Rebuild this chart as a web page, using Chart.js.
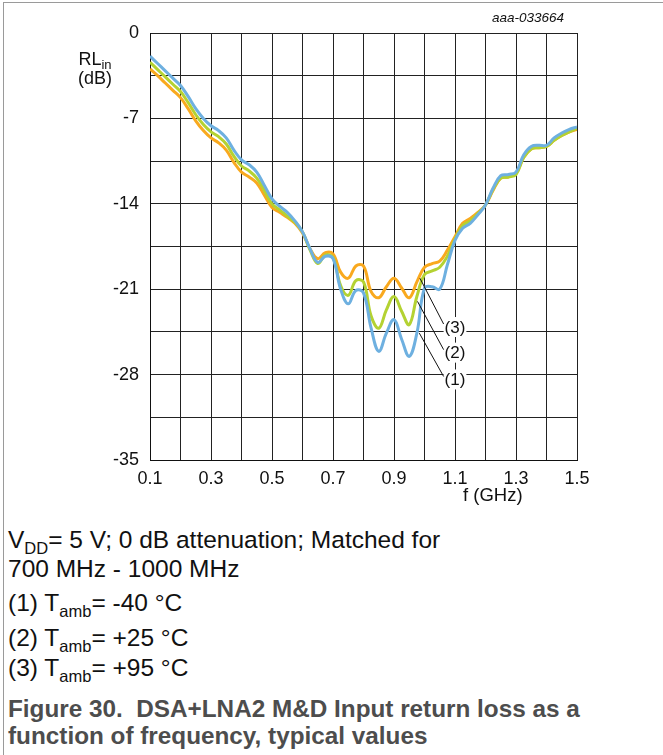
<!DOCTYPE html>
<html>
<head>
<meta charset="utf-8">
<script src="https://cdn.jsdelivr.net/npm/chart.js@4.4.1/dist/chart.umd.min.js"></script>
<style>
  html, body { margin:0; padding:0; background:#fff; }
  body { width:663px; height:755px; position:relative; overflow:hidden; font-family:"Liberation Sans", Arial, sans-serif; color:#111; }
  .frame { position:absolute; left:3px; top:2px; width:660px; height:753px; border-left:1px solid #9a9a9a; border-top:1px solid #9a9a9a; }
  .chartBox { position:absolute; left:0; top:0; width:663px; height:510px; }
  .abs { position:absolute; white-space:nowrap; line-height:1; }
  .ylab { left:60px; top:50px; width:70px; text-align:center; font-size:18px; line-height:19px; }
  .code { left:492px; top:11px; font-size:13.5px; font-style:italic; }
  .xlab { left:463px; top:486px; font-size:18.5px; }
  .note { left:8px; font-size:24.5px; }
  .note sub { font-size:16.5px; vertical-align:-6px; line-height:0; }
  .cap { left:8px; font-size:24.3px; font-weight:bold; color:#4d4d4d; }
</style>
</head>
<body>
<div class="frame"></div>
<div class="chartBox"><canvas id="rl"></canvas></div>

<div class="abs ylab">RL<sub style="font-size:13px;vertical-align:-4px;line-height:0">in</sub><br>(dB)</div>
<div class="abs code">aaa-033664</div>
<div class="abs xlab">f (GHz)</div>

<div class="abs note" style="top:528px">V<sub>DD</sub>= 5 V; 0 dB attenuation; Matched for</div>
<div class="abs note" style="top:557px">700 MHz - 1000 MHz</div>
<div class="abs note" style="top:591px">(1) T<sub>amb</sub>= -40 °C</div>
<div class="abs note" style="top:626px">(2) T<sub>amb</sub>= +25 °C</div>
<div class="abs note" style="top:656px">(3) T<sub>amb</sub>= +95 °C</div>
<div class="abs cap" style="top:697px">Figure 30.&nbsp; DSA+LNA2 M&amp;D Input return loss as a</div>
<div class="abs cap" style="top:724px">function of frequency, typical values</div>

<script>
// ====== Data ======
const freqGHz = [0.1,0.125,0.15,0.175,0.2,0.225,0.25,0.275,0.3,0.325,0.35,0.375,0.4,0.425,0.45,0.475,0.5,0.525,0.55,0.575,0.6,
  0.625,0.65,0.675,0.7,0.725,0.75,0.775,0.8,0.825,0.85,0.875,0.9,0.925,0.95,0.975,1.0,1.025,1.05,1.075,1.1,
  1.125,1.15,1.175,1.2,1.225,1.25,1.275,1.3,1.325,1.35,1.375,1.4,1.425,1.45,1.475,1.5];

// (1) Tamb = -40 °C
const rlMinus40 = [-1.9,-2.5,-3.1,-3.7,-4.3,-5.2,-6.2,-7.0,-7.6,-8.0,-8.6,-9.6,-10.4,-10.8,-11.4,-12.5,-13.6,-14.2,-14.7,-15.4,-16.3,
  -17.7,-18.8,-18.3,-18.5,-21.0,-22.2,-21.1,-21.3,-24.2,-26.1,-24.6,-23.5,-25.1,-26.5,-24.6,-20.9,-20.8,-21.0,-19.0,-17.0,
  -16.0,-15.6,-14.9,-14.1,-12.7,-11.7,-11.6,-11.4,-10.0,-9.3,-9.2,-9.2,-8.6,-8.2,-7.9,-7.7];
// (2) Tamb = +25 °C
const rlPlus25 = [-2.4,-3.0,-3.6,-4.2,-4.8,-5.7,-6.7,-7.5,-8.1,-8.5,-9.1,-10.1,-10.9,-11.3,-11.9,-12.9,-14.0,-14.5,-15.0,-15.5,-16.3,
  -17.8,-18.9,-18.2,-18.4,-20.7,-21.5,-20.3,-20.4,-23.2,-24.2,-22.7,-21.6,-22.8,-23.9,-21.6,-19.8,-19.5,-19.2,-18.3,-16.9,
  -15.8,-15.4,-14.8,-14.1,-12.8,-11.9,-11.8,-11.6,-10.2,-9.5,-9.4,-9.3,-8.8,-8.4,-8.1,-7.8];
// (3) Tamb = +95 °C
const rlPlus95 = [-2.95,-3.5,-4.1,-4.7,-5.3,-6.2,-7.2,-8.0,-8.6,-9.0,-9.6,-10.6,-11.4,-11.8,-12.3,-13.3,-14.3,-14.7,-15.1,-15.6,-16.4,
  -17.7,-18.5,-18.0,-18.1,-19.6,-20.1,-19.1,-19.1,-21.2,-21.7,-20.8,-20.1,-20.9,-21.7,-20.4,-19.2,-18.9,-18.7,-17.8,-16.7,
  -15.6,-15.2,-14.7,-14.1,-12.9,-11.9,-11.8,-11.5,-10.2,-9.5,-9.4,-9.3,-8.8,-8.4,-8.1,-7.9];

const seriesNames = ['(1)', '(2)', '(3)'];
const seriesColors = ['#6eb0e0', '#b4d232', '#f9a91e'];
// callout labels: [label x, label y, leader end x, leader end y] in axis units
const callouts = [
  ['(3)', 1.1, -24.1, 0.985, -20.1],
  ['(2)', 1.1, -26.2, 0.977, -22.0],
  ['(1)', 1.1, -28.4, 0.983, -24.6]
];

// ====== Helpers ======
const pts = ys => freqGHz.map((f,i) => ({ x:f, y:ys[i] }));
const FONT = '"Liberation Sans", Arial, sans-serif';

const calloutPlugin = {
  id:'callouts',
  afterDatasetsDraw(chart){
    const {ctx, scales:{x, y}} = chart;
    ctx.save();
    ctx.font = '17px ' + FONT;
    ctx.textAlign = 'center'; ctx.textBaseline = 'middle';
    callouts.forEach(([txt, lx, ly, ex, ey]) => {
      const px = x.getPixelForValue(lx), py = y.getPixelForValue(ly);
      const w = ctx.measureText(txt).width;
      ctx.fillStyle = '#fff';
      ctx.fillRect(px - w/2 - 1, py - 10, w + 2, 20);
      ctx.strokeStyle = '#111'; ctx.lineWidth = 1;
      ctx.beginPath();
      ctx.moveTo(px - w/2 - 1, py - 3);
      ctx.lineTo(x.getPixelForValue(ex), y.getPixelForValue(ey));
      ctx.stroke();
      ctx.fillStyle = '#111';
      ctx.fillText(txt, px, py + 1);
    });
    ctx.restore();
  }
};

// ====== Chart ======
new Chart(document.getElementById('rl'), {
  type:'line',
  data:{
    datasets:[rlMinus40, rlPlus25, rlPlus95].map((ys,i) => ({
      label: seriesNames[i], data: pts(ys),
      borderColor: seriesColors[i], borderWidth: 3,
      pointRadius: 0, tension: 0.4, fill: false
    }))
  },
  options:{
    responsive:true, maintainAspectRatio:false, animation:false,
    layout:{ padding:{ top:33, right:86, left:0, bottom:0 } },
    plugins:{ legend:{ display:false }, tooltip:{ enabled:false } },
    scales:{
      x:{
        type:'linear', min:0.1, max:1.5,
        afterFit: s => { s.height = 50; },
        grid:{ color:'#222', lineWidth:1, drawTicks:false },
        border:{ color:'#111', width:1 },
        ticks:{
          stepSize:0.1, autoSkip:false, maxRotation:0, padding:8, color:'#111',
          font:{ family:FONT, size:18 },
          callback: v => (Math.round(v*10) % 2 === 1) ? v.toFixed(1) : ''
        }
      },
      y:{
        min:-35, max:0,
        afterFit: s => { s.width = 150; },
        grid:{ color:'#222', lineWidth:1, drawTicks:false },
        border:{ color:'#111', width:1 },
        ticks:{
          stepSize:3.5, autoSkip:false, padding:11, color:'#111',
          font:{ family:FONT, size:18 },
          callback: v => (Math.round(v*10) % 70 === 0) ? String(Math.round(v) || 0) : ''
        }
      }
    }
  },
  plugins:[calloutPlugin]
});
</script>
</body>
</html>
